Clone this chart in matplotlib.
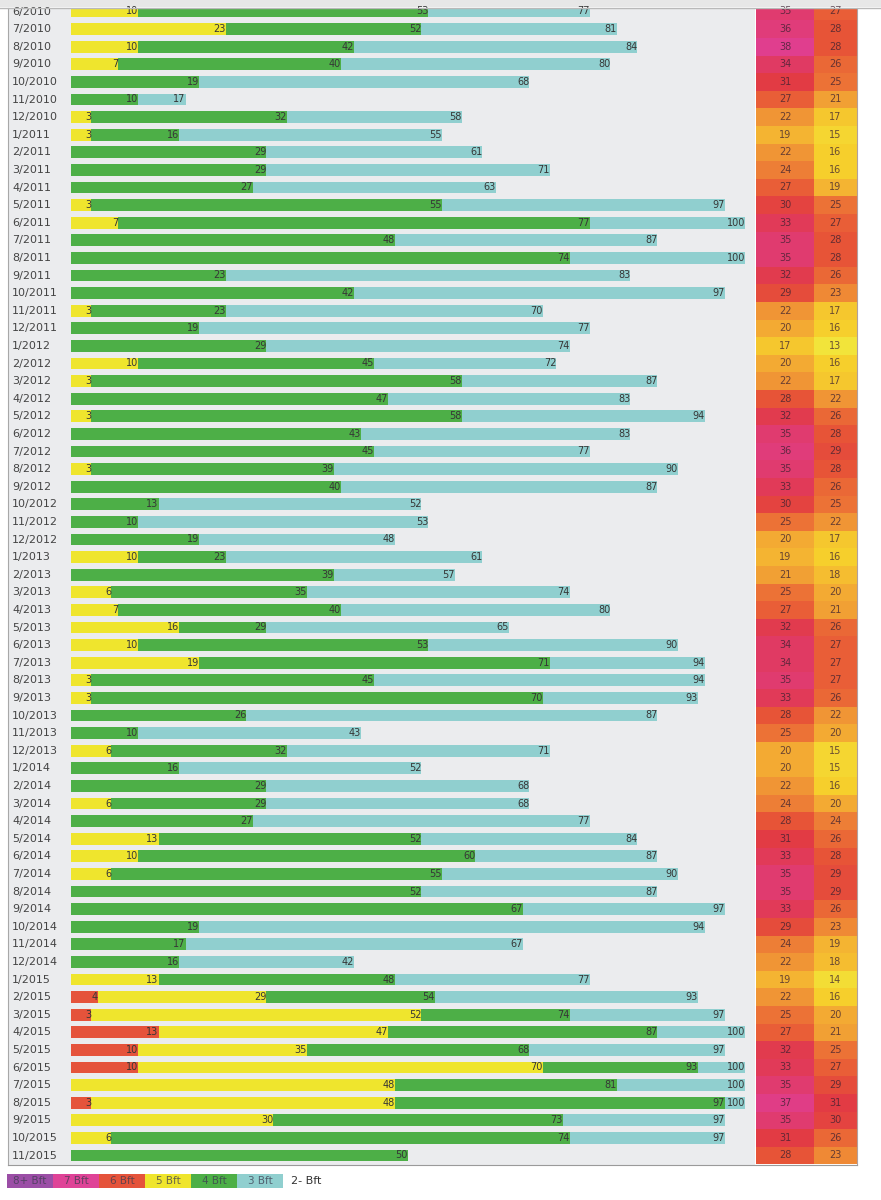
import matplotlib
matplotlib.use("Agg")
import matplotlib.pyplot as plt
import matplotlib.transforms as mtransforms
from matplotlib.colors import LinearSegmentedColormap, Normalize
from matplotlib.patches import Rectangle
from matplotlib.lines import Line2D
import numpy as np

plt.rcParams['font.family'] = ['DejaVu Sans']

# month labels, 6/2010 .. 11/2015
months = []
y, m = 2010, 6
while (y, m) <= (2015, 11):
    months.append('%d/%d' % (m, y))
    m += 1
    if m > 12:
        m, y = 1, y + 1

# cumulative percent shown at the end of each segment (None = no segment)
N = None
bft6 = [N] * 56 + [4, 3, 13, 10, 10, N, 3, N, N, N]
bft5 = [10, 23, 10, 7, N, N, 3, 3, N, N, N, 3, 7, N, N, N, N, 3, N, N,
        10, 3, N, 3, N, N, 3, N, N, N, N, 10, N, 6, 7, 16, 10, 19, 3, 3,
        N, N, 6, N, N, 6, N, 13, 10, 6, N, N, N, N, N, 13, 29, 52, 47, 35,
        70, 48, 48, 30, 6, N]
bft4 = [53, 52, 42, 40, 19, 10, 32, 16, 29, 29, 27, 55, 77, 48, 74, 23, 42, 23, 19, 29,
        45, 58, 47, 58, 43, 45, 39, 40, 13, 10, 19, 23, 39, 35, 40, 29, 53, 71, 45, 70,
        26, 10, 32, 16, 29, 29, 27, 52, 60, 55, 52, 67, 19, 17, 16, 48, 54, 74, 87, 68,
        93, 81, 97, 73, 74, 50]
bft3 = [77, 81, 84, 80, 68, 17, 58, 55, 61, 71, 63, 97, 100, 87, 100, 83, 97, 70, 77, 74,
        72, 87, 83, 94, 83, 77, 90, 87, 52, 53, 48, 61, 57, 74, 80, 65, 90, 94, 94, 93,
        87, 43, 71, 52, 68, 68, 77, 84, 87, 90, 87, 97, 94, 67, 42, 77, 93, 97, 100, 97,
        100, 100, 100, 97, 97, N]

temp_max = [35, 36, 38, 34, 31, 27, 22, 19, 22, 24, 27, 30, 33, 35, 35, 32, 29, 22, 20, 17,
            20, 22, 28, 32, 35, 36, 35, 33, 30, 25, 20, 19, 21, 25, 27, 32, 34, 34, 35, 33,
            28, 25, 20, 20, 22, 24, 28, 31, 33, 35, 35, 33, 29, 24, 22, 19, 22, 25, 27, 32,
            33, 35, 37, 35, 31, 28]
temp_min = [27, 28, 28, 26, 25, 21, 17, 15, 16, 16, 19, 25, 27, 28, 28, 26, 23, 17, 16, 13,
            16, 17, 22, 26, 28, 29, 28, 26, 25, 22, 17, 16, 18, 20, 21, 26, 27, 27, 27, 26,
            22, 20, 15, 15, 16, 20, 24, 26, 28, 29, 29, 26, 23, 19, 18, 14, 16, 20, 21, 25,
            27, 29, 31, 30, 26, 23]

legend_labels = ['8+ Bft', '7 Bft', '6 Bft', '5 Bft', '4 Bft', '3 Bft', '2- Bft']
legend_colors = ['#9b4ea6', '#df4397', '#e5533b', '#efe52d', '#4daf47', '#90cfcf', 'white']

series = [bft6, bft5, bft4, bft3]
series_colors = legend_colors[2:6]

W, H = 881, 1200
fig = plt.figure(figsize=(W / 100, H / 100), dpi=100)

def px_axes(x0, y0, x1, y1):
    return fig.add_axes([x0 / W, 1 - y1 / H, (x1 - x0) / W, (y1 - y0) / H])

# top strip of the page
fig.patches.append(Rectangle((0, 1 - 7 / H), 1, 7 / H, transform=fig.transFigure,
                             facecolor='#e7e7e7', edgecolor='none', zorder=-1))
fig.lines.append(Line2D([0, 1], [1 - 7.5 / H] * 2, transform=fig.transFigure,
                        color='#b9b9b9', linewidth=1))

row_top, row_step = 11.5, 17.6
top, bottom = 8, 1165
ylim = ((bottom - row_top) / row_step, (top - row_top) / row_step)

# bars
ax = px_axes(8, top, 755, bottom)
ax.set_facecolor('#ebecee')
scale = 6.74
ax.set_xlim(-(71 - 8) / scale, (755 - 71) / scale)
ax.set_ylim(*ylim)
for i in range(len(months)):
    left = 0
    for vals, col in zip(series, series_colors):
        v = vals[i]
        if v is None:
            continue
        ax.barh(i, v - left, left=left, height=0.68, color=col, linewidth=0)
        ax.text(v, i, str(v), ha='right', va='center', fontsize=7, color='#363636')
        left = v

lab_tr = mtransforms.blended_transform_factory(ax.transAxes, ax.transData)
for i, lab in enumerate(months):
    ax.text(4 / 747, i, lab, transform=lab_tr, ha='left', va='center',
            fontsize=8, color='#444444')

ax.set_xticks([])
ax.set_yticks([])
for s in ['top', 'right']:
    ax.spines[s].set_visible(False)
ax.spines['left'].set_color('#a8a8a8')
ax.spines['bottom'].set_color('#9a9a9a')

# temperature columns
heat = [(13, '#f2e43a'), (16, '#f6cf2c'), (19, '#f4b432'), (22, '#f09535'),
        (25, '#ec7236'), (28, '#e75437'), (31, '#e23b44'), (34, '#e03a62'),
        (37, '#e03d86'), (38, '#e03e8e')]
lo, hi = heat[0][0], heat[-1][0]
cmap = LinearSegmentedColormap.from_list(
    'heat', [((v - lo) / (hi - lo), c) for v, c in heat])
norm = Normalize(lo, hi)

axh = px_axes(756, top, 857, bottom)
axh.set_xlim(0, 101)
axh.set_ylim(*ylim)
xedges = [0, 58, 101]
yedges = np.arange(len(months) + 1) - 0.5
grid = np.column_stack([temp_max, temp_min])
axh.pcolormesh(xedges, yedges, grid, cmap=cmap, norm=norm, shading='flat',
               edgecolors='face', linewidth=0, antialiased=False)
for (x0, x1), temps in zip([(0, 58), (58, 101)], [temp_max, temp_min]):
    for i, t in enumerate(temps):
        axh.text((x0 + x1) / 2, i, str(t), ha='center', va='center',
                 fontsize=7, color='#3a2030', alpha=0.75)
axh.set_xticks([])
axh.set_yticks([])
for s in ['top', 'left']:
    axh.spines[s].set_visible(False)
axh.spines['right'].set_color('#b0a0a0')
axh.spines['bottom'].set_color('#9a9a9a')

# legend strip
axl = px_axes(7, 1174, 329, 1188)
axl.set_xlim(-0.5, len(legend_labels) - 0.5)
axl.set_ylim(0, 1)
axl.bar(range(len(legend_labels)), 1, width=1, bottom=0, color=legend_colors, linewidth=0)
for k, lab in enumerate(legend_labels):
    last = k == len(legend_labels) - 1
    axl.text(k, 0.5, lab, ha='center', va='center',
             fontsize=8 if last else 7.5,
             color='#333333' if last else '#3c3c50', alpha=1 if last else 0.75)
axl.axis('off')

fig.savefig('out.png', dpi=100, facecolor='white')
